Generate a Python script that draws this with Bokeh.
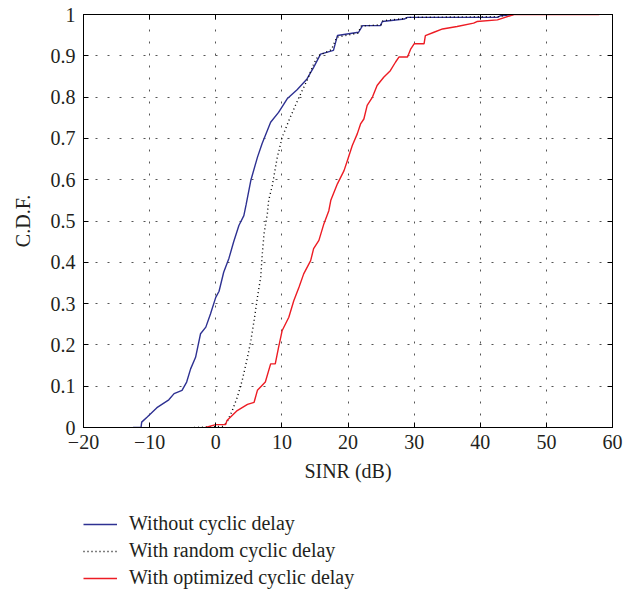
from bokeh.plotting import figure
from bokeh.layouts import column
from bokeh.models import Range1d, FixedTicker, LinearAxis, Legend, LegendItem, CustomJSTickFormatter
from bokeh.embed import file_html
from bokeh.resources import INLINE

# ---- data ----
blue_x = [-12.5, -11.3, -11.2, -10.4, -8.9, -7.1, -6.3, -5.1, -4.4, -3.8, -3.05, -2.3, -1.5, -0.8,
          0.0, 0.5, 1.2, 2.0, 2.7, 3.5, 4.25, 4.6, 5.3, 6.3, 7.0, 8.3, 9.5, 10.8, 12.3, 13.8, 14.8,
          15.85, 17.8, 18.4, 21.6, 22.2, 24.9, 25.2, 28.5, 29.0, 42.6, 43.1, 45.0]
blue_y = [0, 0, 0.013, 0.025, 0.048, 0.067, 0.082, 0.09, 0.11, 0.142, 0.17, 0.227, 0.243, 0.275,
          0.315, 0.33, 0.376, 0.41, 0.449, 0.489, 0.513, 0.54, 0.598, 0.654, 0.687, 0.739, 0.763,
          0.796, 0.818, 0.844, 0.872, 0.904, 0.913, 0.949, 0.957, 0.973, 0.973, 0.983, 0.989, 0.993,
          0.993, 0.997, 1.0]

random_x = [-3.3, 1.0, 1.7, 2.5, 3.25, 4.0, 4.8, 5.3, 5.8, 6.3, 6.8, 7.0, 7.3, 7.8, 8.0, 8.55, 9.3,
            10.05, 11.05, 12.6, 13.8, 14.8, 15.5, 17.5, 18.3, 21.5, 22.0, 25.0, 25.3, 28.5, 29.0,
            43.0, 44.0]
random_y = [0, 0.003, 0.013, 0.041, 0.073, 0.114, 0.17, 0.21, 0.259, 0.315, 0.364, 0.412, 0.469,
            0.517, 0.55, 0.586, 0.654, 0.703, 0.743, 0.8, 0.84, 0.88, 0.9, 0.915, 0.945, 0.955,
            0.972, 0.975, 0.985, 0.99, 0.993, 0.995, 1.0]

opt_x = [-1.55, 0.0, 1.5, 1.7, 3.25, 4.8, 5.8, 6.3, 7.5, 8.3, 9.0, 9.5, 10.05, 11.05, 11.8, 12.6,
         13.3, 14.35, 14.8, 15.6, 16.35, 17.1, 17.4, 18.4, 19.4, 19.9, 20.65, 21.4, 21.9, 22.4,
         22.9, 23.7, 24.4, 25.4, 26.4, 27.2, 27.7, 29.0, 29.5, 30.0, 31.5, 31.7, 33.0, 34.3, 36.5,
         39.0, 39.5, 42.6, 45.1, 58.0]
opt_y = [0, 0.007, 0.007, 0.017, 0.041, 0.056, 0.061, 0.09, 0.11, 0.154, 0.154, 0.194, 0.235,
         0.267, 0.307, 0.34, 0.372, 0.404, 0.433, 0.453, 0.493, 0.525, 0.55, 0.59, 0.622, 0.646,
         0.683, 0.711, 0.735, 0.747, 0.78, 0.8, 0.828, 0.848, 0.864, 0.885, 0.897, 0.897, 0.917,
         0.929, 0.929, 0.949, 0.957, 0.965, 0.971, 0.979, 0.983, 0.987, 1.0, 1.0]

x_ticks = [-20, -10, 0, 10, 20, 30, 40, 50, 60]
x_tick_labels = ["\u221220", "\u221210", "0", "10", "20", "30", "40", "50", "60"]
y_ticks = [0, 0.1, 0.2, 0.3, 0.4, 0.5, 0.6, 0.7, 0.8, 0.9, 1]
y_tick_labels = ["0", "0.1", "0.2", "0.3", "0.4", "0.5", "0.6", "0.7", "0.8", "0.9", "1"]

series_names = ["Without cyclic delay", "With random cyclic delay", "With optimized cyclic delay"]

FONT = "Liberation Serif"
TXT = "#231F20"
BLUE = "#2E3192"
RED = "#ED1C24"

p = figure(width=635, height=500, output_backend="svg", toolbar_location=None,
           x_range=Range1d(-20, 60), y_range=Range1d(0, 1),
           min_border_left=83, min_border_right=23, min_border_top=14, min_border_bottom=73)
p.background_fill_color = "white"
p.border_fill_color = "white"
p.outline_line_color = "black"
p.outline_line_width = 1

def style_axis(ax, labels=True):
    ax.axis_line_color = "black"
    ax.major_tick_in = 5
    ax.major_tick_out = 0
    ax.minor_tick_line_color = None
    ax.major_tick_line_color = "black"
    ax.major_label_text_font = FONT
    ax.major_label_text_color = TXT
    ax.major_label_text_font_size = "20px"
    if not labels:
        ax.formatter = CustomJSTickFormatter(code="return ''")
        ax.major_label_standoff = 0

xa = p.xaxis[0]
xa.ticker = FixedTicker(ticks=x_ticks)
xa.major_label_overrides = {t: l for t, l in zip(x_ticks, x_tick_labels)}
style_axis(xa)
xa.major_label_standoff = 7
xa.axis_label = "SINR (dB)"
xa.axis_label_text_font = FONT
xa.axis_label_text_font_style = "normal"
xa.axis_label_text_font_size = "20px"
xa.axis_label_text_color = TXT
xa.axis_label_standoff = 8

ya = p.yaxis[0]
ya.ticker = FixedTicker(ticks=y_ticks)
ya.major_label_overrides = {t: l for t, l in zip(y_ticks, y_tick_labels)}
style_axis(ya)
ya.major_label_standoff = 8
ya.axis_label = "C.D.F."
ya.axis_label_text_font = FONT
ya.axis_label_text_font_style = "normal"
ya.axis_label_text_font_size = "20px"
ya.axis_label_text_color = TXT
ya.axis_label_standoff = 14

top = LinearAxis(ticker=FixedTicker(ticks=x_ticks))
style_axis(top, labels=False)
p.add_layout(top, "above")
right = LinearAxis(ticker=FixedTicker(ticks=y_ticks))
style_axis(right, labels=False)
p.add_layout(right, "right")

p.xgrid.ticker = FixedTicker(ticks=x_ticks)
p.ygrid.ticker = FixedTicker(ticks=y_ticks)
for g in (p.xgrid[0], p.ygrid[0]):
    g.grid_line_color = "#555555"
    g.grid_line_dash = "2 10"
    g.grid_line_width = 1

p.line(blue_x, blue_y, line_color=BLUE, line_width=1.4)
p.line(random_x, random_y, line_color="black", line_width=1.4, line_dash="1 3")
p.line(opt_x, opt_y, line_color=RED, line_width=1.4)

# ---- legend strip below the chart ----
lg = figure(width=635, height=90, output_backend="svg", toolbar_location=None,
            x_axis_type=None, y_axis_type=None, min_border=0,
            x_range=Range1d(0, 1), y_range=Range1d(0, 1))
lg.outline_line_color = None
lg.grid.visible = False
nan = float("nan")
l_blue = lg.line([nan], [nan], line_color=BLUE, line_width=1.4)
l_rand = lg.line([nan], [nan], line_color="black", line_width=1.4, line_dash="1 3")
l_opt = lg.line([nan], [nan], line_color=RED, line_width=1.4)

legend = Legend(items=[LegendItem(label=series_names[0], renderers=[l_blue]),
                       LegendItem(label=series_names[1], renderers=[l_rand]),
                       LegendItem(label=series_names[2], renderers=[l_opt])],
                location=(0, 1))
legend.border_line_color = None
legend.background_fill_alpha = 0
legend.padding = 0
legend.margin = 0
legend.spacing = 4
legend.glyph_width = 34
legend.glyph_height = 20
legend.label_height = 20
legend.label_standoff = 12
legend.label_text_font = FONT
legend.label_text_font_size = "20px"
legend.label_text_color = TXT
lg.add_layout(legend, "center")

open("out.html", "w").write(file_html(column(p, lg, spacing=0), INLINE))
